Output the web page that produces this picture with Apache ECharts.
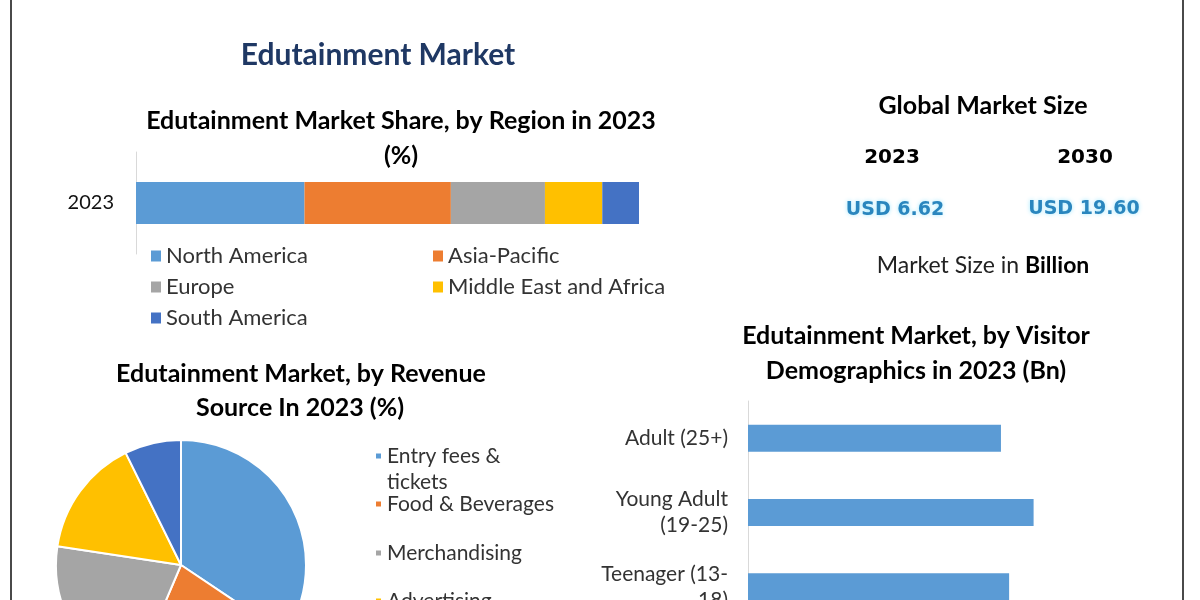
<!DOCTYPE html>
<html><head><meta charset="utf-8">
<script src="https://cdn.jsdelivr.net/npm/echarts@6/dist/echarts.min.js"></script>
<style>html,body{margin:0;padding:0;background:#fff}#c{width:1200px;height:600px}</style>
</head><body><div id="c"></div>
<script>
const regionNames = ['North America','Asia-Pacific','Europe','Middle East and Africa','South America'];
const regionShare = [33.5, 29.1, 18.7, 11.4, 7.3];
const regionYear = ['2023'];
const revenueSources = ['Entry fees & tickets','Food & Beverages','Merchandising','Advertising','Others'];
const revenueShare = [34.4, 22.0, 21.0, 15.3, 7.3];
const visitorGroups = ['Adult (25+)','Young Adult\n(19-25)','Teenager (13-\n18)'];
const visitorValues = [0.62, 0.70, 0.64];
const marketYears = ['2023','2030'];
const marketValues = [6.62, 19.60];
const colors = ['#5B9BD5','#ED7D31','#A5A5A5','#FFC000','#4472C4'];

const FF = 'Lato, "Open Sans", sans-serif';
const chart = echarts.init(document.getElementById('c'));

function txt(text, x, y, size, weight, fill, extra) {
  return {type:'text', silent:true, style:Object.assign({text, x, y, fontSize:size, fontWeight:weight, fontFamily:FF, fill, align:'center', verticalAlign:'middle'}, extra||{})};
}
const usdStyle = {fontFamily:'"DejaVu Sans", sans-serif', textShadowColor:'rgba(150,230,255,0.9)', textShadowBlur:4};

const graphics = [
  {type:'line', silent:true, shape:{x1:11,y1:0,x2:11,y2:600}, style:{stroke:'#4a4a4a', lineWidth:2}},
  {type:'line', silent:true, shape:{x1:1183,y1:0,x2:1183,y2:600}, style:{stroke:'#4a4a4a', lineWidth:2}},
  txt('Edutainment Market', 378, 55, 30, 'bold', '#1F3864'),
  txt('Edutainment Market Share, by Region in 2023', 401, 121, 25, 'bold', '#000'),
  txt('(%)', 401, 156, 25, 'bold', '#000'),
  txt('Global Market Size', 983, 106, 25, 'bold', '#000'),
  txt(marketYears[0], 892, 158, 20, 'bold', '#000', {fontFamily:'"DejaVu Sans", sans-serif'}),
  txt(marketYears[1], 1085, 158, 20, 'bold', '#000', {fontFamily:'"DejaVu Sans", sans-serif'}),
  txt('USD ' + marketValues[0].toFixed(2), 895, 210, 19, 'bold', '#2A86BE', usdStyle),
  txt('USD ' + marketValues[1].toFixed(2), 1084, 209, 19, 'bold', '#2A86BE', usdStyle),
  {type:'text', silent:true, style:{x:983, y:266, align:'center', verticalAlign:'middle',
    text:'{n|Market Size in }{b|Billion}',
    rich:{n:{fontSize:23, fontFamily:FF, fill:'#222', color:'#222'}, b:{fontSize:23, fontFamily:FF, fontWeight:'bold', fill:'#000', color:'#000'}}}},
  txt('Edutainment Market, by Revenue', 301, 374, 25, 'bold', '#000'),
  txt('Source In 2023 (%)', 300, 408, 25, 'bold', '#000'),
  txt('Edutainment Market, by Visitor', 916, 336, 25, 'bold', '#000'),
  txt('Demographics in 2023 (Bn)', 916, 371, 25, 'bold', '#000')
];

const legends = [
  {left:151, top:244, orient:'vertical', data:[regionNames[0], regionNames[2], regionNames[4]]},
  {left:433, top:244, orient:'vertical', data:[regionNames[1], regionNames[3]]}
].map(l => Object.assign(l, {padding:0, itemWidth:10, itemHeight:11, itemGap:7, icon:'rect', selectedMode:false,
  textStyle:{fontSize:22, lineHeight:24, fontFamily:FF, color:'#333'}}));

const pieLegendTops = [417, 493, 542, 590, 639];
revenueSources.forEach((n, i) => {
  const first = i === 0;
  legends.push({padding:0, left:374, top:pieLegendTops[i], orient:'vertical', data:[n], itemWidth:7, itemHeight:7, icon:'rect', selectedMode:false,
    formatter: first ? ' \nEntry fees &\ntickets' : '{name}',
    textStyle:{fontSize:21, lineHeight: first ? 26 : 22, fontFamily:FF, color:'#333'}});
});

const series = regionNames.map((n, i) => ({
  name:n, type:'bar', stack:'r', xAxisIndex:0, yAxisIndex:0, barWidth:42,
  itemStyle:{color:colors[i]}, data:[regionShare[i]], silent:true
}));
series.push({
  type:'pie', center:[181,565], radius:125, startAngle:90, clockwise:true, silent:true,
  label:{show:false}, labelLine:{show:false},
  itemStyle:{borderColor:'#fff', borderWidth:2},
  data: revenueSources.map((n, i) => ({name:n, value:revenueShare[i], itemStyle:{color:colors[i]}}))
});
series.push({
  name:'Visitors', type:'bar', xAxisIndex:1, yAxisIndex:1, barWidth:27, silent:true,
  itemStyle:{color:'#5B9BD5'}, data:visitorValues
});

chart.setOption({
  animation:false,
  color:colors,
  grid:[
    {left:136, top:152, width:503, height:102, outerBoundsMode:'none', containLabel:false},
    {left:748, top:401, width:408, height:223, outerBoundsMode:'none', containLabel:false}
  ],
  xAxis:[
    {gridIndex:0, type:'value', min:0, max:100, show:false},
    {gridIndex:1, type:'value', min:0, max:1, show:false}
  ],
  yAxis:[
    {gridIndex:0, type:'category', data:regionYear, axisLine:{lineStyle:{color:'#d9d9d9'}}, axisTick:{show:false},
      axisLabel:{fontSize:20, fontFamily:FF, color:'#111', margin:22}},
    {gridIndex:1, type:'category', data:visitorGroups, inverse:true, axisLine:{lineStyle:{color:'#d9d9d9'}}, axisTick:{show:false},
      axisLabel:{fontSize:21, lineHeight:26, fontFamily:FF, color:'#333', margin:20, align:'right'}}
  ],
  legend:legends,
  series:series,
  graphic:graphics
});
</script></body></html>
